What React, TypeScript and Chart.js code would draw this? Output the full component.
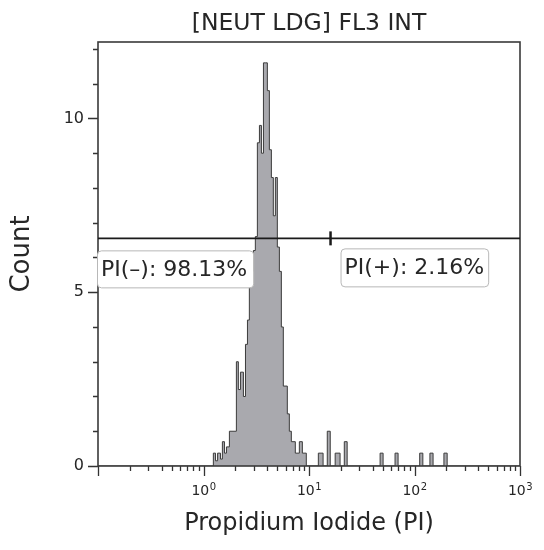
import { useEffect, useRef } from "react";
import { Chart, registerables } from "chart.js";

Chart.register(...registerables);

// Histogram bins (left edge in PI units) and counts
const binStarts = [
  0.1, 1.24, 1.3, 1.36, 1.45, 1.51, 1.58, 1.65, 1.76, 2.05, 2.14, 2.24, 2.39, 2.5,
  2.61, 2.72, 2.85, 2.97, 3.1, 3.24, 3.39, 3.54, 3.7, 3.86, 4.03, 4.21, 4.4, 4.59,
  4.8, 5.01, 5.24, 5.47, 5.71, 6.23, 6.51, 6.8, 7.42, 8.1, 8.65, 9.43, 12.26, 13.6,
  14.9, 15.9, 17.7, 19.7, 21.6, 23.0, 47.2, 50.4, 65.4, 69.9, 112, 120, 140, 150,
  190, 204,
];
const binCounts = [
  0, 0.37, 0.15, 0.37, 0.2, 0.7, 0.37, 0.55, 1.0, 3.0, 2.2, 2.7, 2.0, 3.5,
  4.2, 5.3, 5.6, 6.2, 6.6, 9.3, 9.8, 9.0, 11.6, 11.6, 10.8, 9.1, 8.3, 7.2,
  8.3, 6.3, 5.6, 4.0, 2.3, 1.5, 1.0, 0.7, 0.37, 0.7, 0.37, 0, 0.37, 0,
  1.0, 0, 0.37, 0, 0.7, 0, 0.37, 0, 0.37, 0, 0.37, 0, 0.37, 0,
  0.37, 0,
];
const xMin = 0.1;
const xMax = 1000;
const yMin = 0;
const yMax = 12.2;
const yTickValues = [0, 1, 2, 3, 4, 5, 6, 7, 8, 9, 10, 11, 12];
const yMajorTicks = [0, 5, 10];
const xDecades = [0.1, 1, 10, 100, 1000];
const xDecadeBases = ["", "10", "10", "10", "10"];
const xDecadeExps = ["", "0", "1", "2", "3"];
const gateY = 6.55;
const gateX = 16;
const negLabel = "PI(–): 98.13%";
const posLabel = "PI(+): 2.16%";
const titleText = "[NEUT LDG] FL3 INT";
const xTitle = "Propidium Iodide (PI)";
const yTitle = "Count";

const FONT = "'DejaVu Sans', Verdana, sans-serif";
const TEXT = "#262626";

function xTickValues(): number[] {
  const out: number[] = [];
  for (let d = 0; d < xDecades.length - 1; d++) {
    for (let m = 1; m < 10; m++) out.push(xDecades[d] * m);
  }
  out.push(xDecades[xDecades.length - 1]);
  return out;
}

function isDecade(v: number) {
  return xDecades.some((d) => Math.abs(d - v) / d < 1e-6);
}

const overlayPlugin = {
  id: "overlay",
  afterDatasetsDraw(chart: any) {
    const { ctx, chartArea } = chart;
    const xs = chart.scales.x;
    const ys = chart.scales.y;
    const { left, right, top, bottom } = chartArea;
    ctx.save();
    // title
    ctx.fillStyle = TEXT;
    ctx.font = `23.5px ${FONT}`;
    ctx.textAlign = "center";
    ctx.textBaseline = "middle";
    ctx.fillText(titleText, (left + right) / 2, 24);

    // x decade labels with superscript exponents
    xDecades.forEach((d, i) => {
      if (!xDecadeBases[i]) return;
      const px = xs.getPixelForValue(d);
      ctx.font = `14px ${FONT}`;
      const wb = ctx.measureText(xDecadeBases[i]).width;
      ctx.font = `10px ${FONT}`;
      const we = ctx.measureText(xDecadeExps[i]).width;
      const x0 = px - (wb + we) / 2;
      ctx.textAlign = "left";
      ctx.textBaseline = "alphabetic";
      ctx.font = `14px ${FONT}`;
      ctx.fillText(xDecadeBases[i], x0, bottom + 29);
      ctx.font = `10px ${FONT}`;
      ctx.fillText(xDecadeExps[i], x0 + wb + 0.5, bottom + 24);
    });

    // ticks
    ctx.strokeStyle = "#333";
    ctx.lineWidth = 1.3;
    ctx.beginPath();
    for (const v of xTickValues()) {
      const px = Math.round(xs.getPixelForValue(v)) + 0.5;
      const len = isDecade(v) ? 10 : 5;
      ctx.moveTo(px, bottom);
      ctx.lineTo(px, bottom + len);
    }
    for (const v of yTickValues) {
      const py = Math.round(ys.getPixelForValue(v)) + 0.5;
      const len = yMajorTicks.includes(v) ? 10 : 5;
      ctx.moveTo(left, py);
      ctx.lineTo(left - len, py);
    }
    ctx.stroke();
    // frame
    ctx.strokeStyle = "#3a3a3a";
    ctx.lineWidth = 1.6;
    ctx.strokeRect(left, top, right - left, bottom - top);

    // gate line
    const gy = ys.getPixelForValue(gateY);
    const gx = xs.getPixelForValue(gateX);
    ctx.strokeStyle = "#1a1a1a";
    ctx.lineWidth = 1.6;
    ctx.beginPath();
    ctx.moveTo(left, gy);
    ctx.lineTo(right, gy);
    ctx.stroke();
    ctx.lineWidth = 2.5;
    ctx.beginPath();
    ctx.moveTo(gx, gy - 7);
    ctx.lineTo(gx, gy + 7);
    ctx.stroke();

    // labels
    const drawBox = (x: number, y: number, w: number, h: number, text: string) => {
      ctx.fillStyle = "#ffffff";
      ctx.strokeStyle = "#b8b8b8";
      ctx.lineWidth = 1;
      ctx.beginPath();
      (ctx as any).roundRect(x + 0.5, y + 0.5, w, h, 4);
      ctx.fill();
      ctx.stroke();
      ctx.fillStyle = TEXT;
      ctx.font = `22px ${FONT}`;
      ctx.textAlign = "left";
      ctx.textBaseline = "middle";
      ctx.fillText(text, x + 4, y + h / 2 + 1);
    };
    ctx.font = `22px ${FONT}`;
    const w1 = ctx.measureText(negLabel).width + 10;
    const w2 = ctx.measureText(posLabel).width + 8;
    drawBox(left - 1, gy + 12, w1, 37, negLabel);
    drawBox(gx + 10, gy + 10, w2, 38, posLabel);
    ctx.restore();
  },
};

export default function App() {
  const ref = useRef<HTMLCanvasElement | null>(null);
  useEffect(() => {
    if (!ref.current) return;
    const points = binStarts.map((x, i) => ({ x, y: binCounts[i] }));
    points.push({ x: xMax, y: 0 });
    const chart = new Chart(ref.current, {
      type: "line",
      data: {
        datasets: [
          {
            data: points,
            stepped: "before",
            fill: "origin",
            backgroundColor: "#a9a9ae",
            borderColor: "#3c3c3c",
            borderWidth: 1,
            pointRadius: 0,
          },
        ],
      },
      options: {
        animation: false,
        responsive: false,
        layout: { padding: { left: 0, right: 24, top: 42, bottom: 0 } },
        plugins: {
          legend: { display: false },
          tooltip: { enabled: false },
          title: { display: false },
        },
        scales: {
          x: {
            type: "logarithmic",
            min: xMin,
            max: xMax,
            afterBuildTicks: (s: any) => {
              s.ticks = xTickValues().map((v) => ({ value: v }));
            },
            afterFit: (s: any) => {
              s.height = 84;
            },
            grid: { display: true, drawOnChartArea: false, drawTicks: true, tickLength: 10, color: "rgba(0,0,0,0)" },
            border: { display: false },
            ticks: {
              autoSkip: false,
              maxRotation: 0,
              callback: () => "",
            },
            title: {
              display: true,
              text: xTitle,
              color: TEXT,
              font: { family: FONT, size: 24, lineHeight: 1.2 },
              padding: { top: 0, bottom: 12 },
            },
          },
          y: {
            type: "linear",
            min: yMin,
            max: yMax,
            afterBuildTicks: (s: any) => {
              s.ticks = yTickValues.map((v) => ({ value: v }));
            },
            afterFit: (s: any) => {
              s.width = 98;
            },
            grid: { display: true, drawOnChartArea: false, drawTicks: true, tickLength: 10, color: "rgba(0,0,0,0)" },
            border: { display: false },
            ticks: {
              autoSkip: false,
              padding: 4,
              color: TEXT,
              font: { family: FONT, size: 16 },
              callback: (v: any) => (yMajorTicks.includes(v) ? String(v) : ""),
            },
            title: {
              display: true,
              text: yTitle,
              color: TEXT,
              font: { family: FONT, size: 26, lineHeight: 1.2 },
              padding: { top: 7, bottom: 0 },
            },
          },
        },
      },
      plugins: [overlayPlugin],
    });
    return () => chart.destroy();
  }, []);
  return (
    <div style={{ position: "absolute", left: 0, top: 0, width: 544, height: 550, background: "#fff" }}>
      <canvas ref={ref} width={544} height={550} />
    </div>
  );
}
